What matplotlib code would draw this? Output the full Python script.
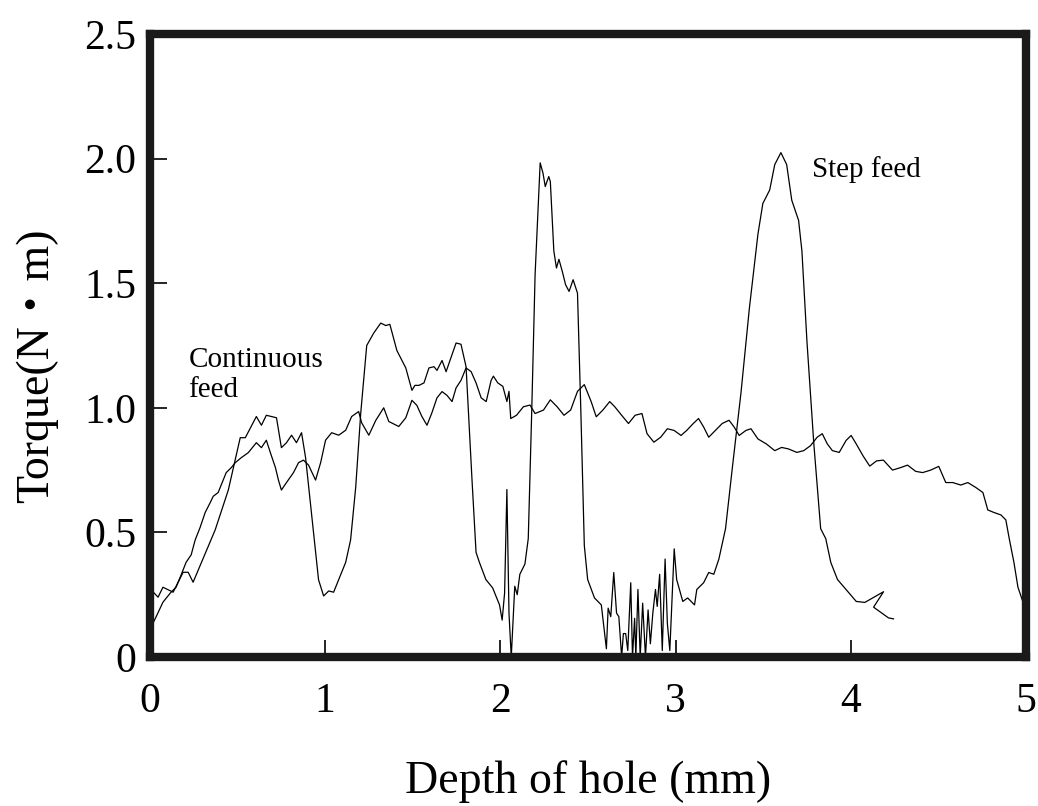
import matplotlib
matplotlib.use("Agg")
import matplotlib.pyplot as plt

# Torque vs. hole depth for two drilling feed modes
cont_depth = [0.006, 0.034, 0.074, 0.12, 0.149, 0.178, 0.206, 0.235, 0.258, 0.286,
              0.315, 0.344, 0.361, 0.389, 0.418, 0.435, 0.464, 0.487, 0.521, 0.561,
              0.607, 0.636, 0.664, 0.687, 0.716, 0.733, 0.75, 0.779, 0.819, 0.848,
              0.876, 0.905, 0.945, 0.974, 1.002, 1.037, 1.077, 1.117, 1.151, 1.191,
              1.208, 1.249, 1.289, 1.334, 1.363, 1.42, 1.46, 1.495, 1.523, 1.552,
              1.581, 1.609, 1.638, 1.667, 1.695, 1.724, 1.747, 1.775, 1.804, 1.833,
              1.861, 1.89, 1.919, 1.947, 1.96, 1.985, 2.014, 2.037, 2.049, 2.059,
              2.092, 2.131, 2.169, 2.198, 2.246, 2.285, 2.324, 2.363, 2.401, 2.44,
              2.479, 2.518, 2.547, 2.585, 2.624, 2.653, 2.692, 2.731, 2.769, 2.808,
              2.837, 2.876, 2.915, 2.953, 2.992, 3.031, 3.063, 3.101, 3.131, 3.16,
              3.189, 3.227, 3.266, 3.305, 3.334, 3.363, 3.401, 3.43, 3.47, 3.518,
              3.566, 3.605, 3.644, 3.692, 3.731, 3.77, 3.808, 3.837, 3.866, 3.895,
              3.934, 3.973, 4.002, 4.031, 4.07, 4.108, 4.147, 4.186, 4.238, 4.284,
              4.324, 4.37, 4.41, 4.456, 4.502, 4.542, 4.582, 4.628, 4.668, 4.714,
              4.754, 4.782, 4.817, 4.857, 4.885, 4.903, 4.931, 4.954, 4.983]
cont_torque = [0.12, 0.16, 0.22, 0.26, 0.28, 0.33, 0.38, 0.41, 0.47, 0.52,
               0.58, 0.62, 0.645, 0.66, 0.71, 0.74, 0.76, 0.78, 0.80, 0.82,
               0.86, 0.84, 0.87, 0.82, 0.76, 0.71, 0.67, 0.70, 0.74, 0.78,
               0.79, 0.77, 0.71, 0.78, 0.87, 0.90, 0.89, 0.91, 0.965, 0.985,
               0.94, 0.89, 0.95, 1.00, 0.945, 0.925, 0.96, 1.03, 1.01, 0.965,
               0.93, 0.98, 1.04, 1.065, 1.05, 1.025, 1.08, 1.11, 1.16, 1.145,
               1.10, 1.04, 1.025, 1.11, 1.127, 1.10, 1.086, 1.025, 1.066, 0.957,
               0.970, 1.004, 1.011, 0.977, 0.991, 1.032, 1.004, 0.970, 0.991, 1.066,
               1.093, 1.025, 0.964, 0.991, 1.025, 1.004, 0.970, 0.937, 0.970, 0.977,
               0.896, 0.862, 0.882, 0.916, 0.909, 0.889, 0.909, 0.937, 0.957, 0.923,
               0.882, 0.909, 0.937, 0.950, 0.923, 0.889, 0.909, 0.916, 0.875, 0.855,
               0.828, 0.841, 0.835, 0.821, 0.828, 0.848, 0.882, 0.896, 0.855, 0.828,
               0.821, 0.869, 0.889, 0.855, 0.807, 0.766, 0.787, 0.790, 0.75, 0.76,
               0.77, 0.745, 0.74, 0.75, 0.765, 0.70, 0.70, 0.69, 0.70, 0.68,
               0.66, 0.59, 0.58, 0.57, 0.55, 0.48, 0.38, 0.28, 0.22]

step_depth = [0.006, 0.046, 0.074, 0.132, 0.189, 0.218, 0.246, 0.372, 0.447, 0.515,
              0.544, 0.607, 0.636, 0.664, 0.722, 0.75, 0.779, 0.808, 0.836, 0.865,
              0.888, 0.962, 0.991, 1.02, 1.048, 1.077, 1.117, 1.145, 1.174, 1.203,
              1.237, 1.277, 1.317, 1.346, 1.369, 1.409, 1.46, 1.495, 1.512, 1.535,
              1.564, 1.592, 1.621, 1.638, 1.667, 1.69, 1.747, 1.775, 1.804, 1.838,
              1.861, 1.88, 1.917, 1.956, 1.995, 2.01, 2.024, 2.037, 2.049, 2.062,
              2.082, 2.096, 2.111, 2.14, 2.159, 2.179, 2.198, 2.227, 2.243, 2.256,
              2.276, 2.285, 2.305, 2.32, 2.334, 2.353, 2.372, 2.392, 2.415, 2.44,
              2.459, 2.479, 2.498, 2.537, 2.576, 2.605, 2.615, 2.63, 2.647, 2.663,
              2.676, 2.692, 2.702, 2.715, 2.727, 2.744, 2.754, 2.766, 2.773, 2.785,
              2.798, 2.812, 2.828, 2.843, 2.856, 2.87, 2.885, 2.895, 2.909, 2.924,
              2.94, 2.953, 2.967, 2.992, 3.006, 3.041, 3.069, 3.108, 3.121, 3.16,
              3.189, 3.218, 3.247, 3.285, 3.324, 3.373, 3.421, 3.47, 3.498, 3.537,
              3.566, 3.601, 3.634, 3.663, 3.702, 3.721, 3.75, 3.789, 3.828, 3.857,
              3.886, 3.924, 3.973, 4.031, 4.08, 4.187, 4.13, 4.215, 4.244]
step_torque = [0.27, 0.24, 0.28, 0.26, 0.34, 0.34, 0.30, 0.51, 0.67, 0.88,
               0.88, 0.965, 0.93, 0.97, 0.96, 0.84, 0.86, 0.89, 0.86, 0.90,
               0.80, 0.31, 0.245, 0.265, 0.26, 0.31, 0.38, 0.47, 0.68, 0.98,
               1.25, 1.30, 1.34, 1.33, 1.335, 1.23, 1.16, 1.07, 1.09, 1.09,
               1.10, 1.16, 1.165, 1.15, 1.19, 1.145, 1.26, 1.255, 1.165, 0.71,
               0.42, 0.38, 0.311, 0.277, 0.209, 0.148, 0.257, 0.672, 0.176, 0.0,
               0.284, 0.25, 0.332, 0.373, 0.475, 0.991, 1.534, 1.983, 1.942, 1.888,
               1.928, 1.908, 1.629, 1.561, 1.596, 1.548, 1.494, 1.467, 1.514, 1.46,
               0.991, 0.447, 0.311, 0.237, 0.209, 0.033, 0.196, 0.162, 0.339, 0.176,
               0.162, 0.0, 0.094, 0.094, 0.026, 0.298, 0.0, 0.155, 0.0, 0.271,
               0.0, 0.216, 0.0, 0.189, 0.053, 0.176, 0.271, 0.203, 0.332, 0.026,
               0.393, 0.135, 0.026, 0.434, 0.311, 0.223, 0.237, 0.209, 0.271, 0.298,
               0.339, 0.332, 0.393, 0.515, 0.76, 1.059, 1.399, 1.697, 1.82, 1.874,
               1.976, 2.024, 1.976, 1.833, 1.752, 1.629, 1.263, 0.855, 0.515, 0.475,
               0.379, 0.311, 0.271, 0.223, 0.219, 0.262, 0.20, 0.157, 0.153]

x_ticks = [0, 1, 2, 3, 4, 5]
x_tick_labels = ["0", "1", "2", "3", "4", "5"]
y_ticks = [0, 0.5, 1.0, 1.5, 2.0, 2.5]
y_tick_labels = ["0", "0.5", "1.0", "1.5", "2.0", "2.5"]

serif = ["Liberation Serif", "DejaVu Serif"]
plt.rcParams["font.family"] = serif

W, H = 1038, 806
fig = plt.figure(figsize=(W / 100, H / 100), dpi=100)
ax = fig.add_axes([150 / W, 1 - 657 / H, 876 / W, 623 / H])

ax.plot(cont_depth, cont_torque, color="black", lw=0.9)
ax.plot(step_depth, step_torque, color="black", lw=0.9)

ax.set_xlim(0, 5)
ax.set_ylim(0, 2.5)
ax.set_xticks(x_ticks)
ax.set_xticklabels(x_tick_labels)
ax.set_yticks(y_ticks)
ax.set_yticklabels(y_tick_labels)

for s in ax.spines.values():
    s.set_linewidth(6)
    s.set_color("#1a1a1a")

ax.tick_params(axis="both", direction="in", length=12, width=1.2, labelsize=30)
ax.tick_params(axis="x", pad=18)
ax.tick_params(axis="y", pad=10)

ax.text(3.78, 1.925, "Step feed", fontsize=21, va="baseline", ha="left")
ax.text(0.22, 1.162, "Continuous", fontsize=21, va="baseline", ha="left")
ax.text(0.22, 1.045, "feed", fontsize=21, va="baseline", ha="left")

fig.text(588 / W, 1 - 793 / H, "Depth of hole (mm)", fontsize=33,
         ha="center", va="baseline")
fig.text(37 / W, 1 - 366 / H, "Torque(N・m)", fontsize=33, rotation=90,
         ha="center", va="center",
         family=["Liberation Serif", "Noto Sans CJK JP", "DejaVu Sans"])

fig.savefig("out.png", dpi=100)
